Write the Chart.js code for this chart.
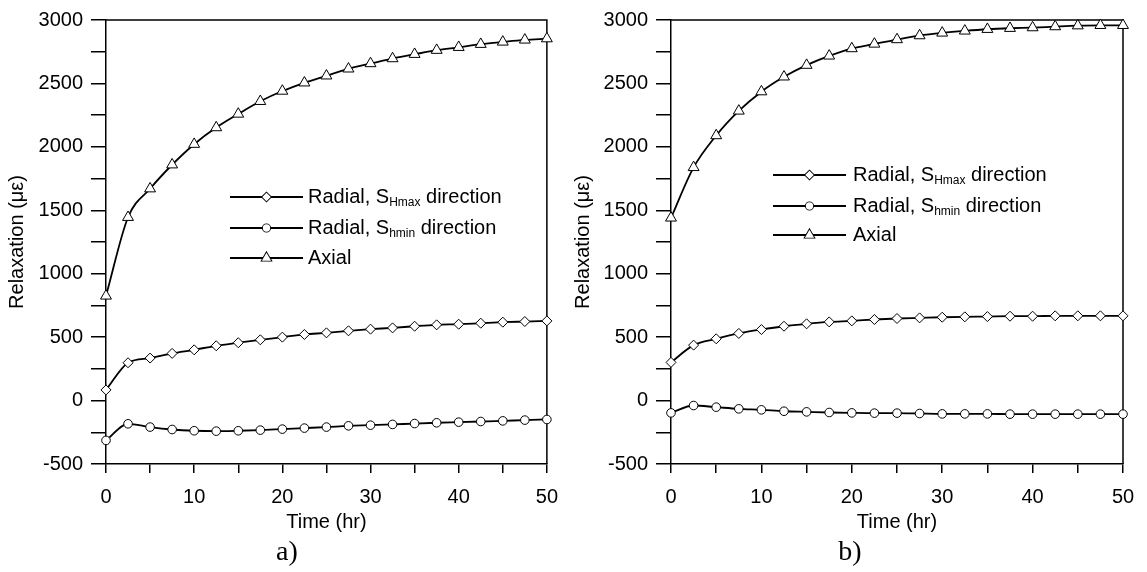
<!DOCTYPE html>
<html lang="en">
<head>
  <meta charset="UTF-8" />
  <title>Strain relaxation vs time</title>
  <script src="https://cdn.jsdelivr.net/npm/chart.js"></script>
  <style>
    body {
      margin: 0;
      background: #fff;
      width: 1147px;
      height: 572px;
      overflow: hidden;
      position: relative;
    }
    .panel { position: absolute; top: 0; height: 572px; }
    #panelA { left: 0; width: 570px; }
    #panelB { left: 570px; width: 577px; }
  </style>
</head>
<body>
  <div class="panel" id="panelA"><canvas id="chartA" width="570" height="572"></canvas></div>
  <div class="panel" id="panelB"><canvas id="chartB" width="577" height="572"></canvas></div>

  <script>
    // time axis (hr)
    const timeHours = [0, 2.5, 5, 7.5, 10, 12.5, 15, 17.5, 20, 22.5, 25, 27.5, 30, 32.5, 35, 37.5, 40, 42.5, 45, 47.5, 50];

    // panel a) relaxation (micro-strain)
    const aRadialHmax = [84, 298, 335, 372, 400, 432, 456, 479, 500, 521, 534, 550, 563, 573, 586, 597, 602, 610, 618, 623, 628];
    const aRadialHmin = [-314, -183, -209, -228, -238, -241, -238, -233, -225, -217, -209, -199, -194, -188, -181, -175, -170, -165, -160, -154, -149];
    const aAxial = [825, 1445, 1670, 1859, 2021, 2152, 2259, 2359, 2440, 2505, 2560, 2615, 2657, 2696, 2730, 2762, 2785, 2809, 2827, 2843, 2853];

    // panel b)
    const bRadialHmax = [301, 437, 487, 529, 560, 586, 605, 620, 628, 639, 647, 652, 657, 660, 662, 665, 665, 668, 668, 668, 668];
    const bRadialHmin = [-97, -39, -52, -65, -73, -84, -89, -94, -97, -99, -99, -102, -105, -105, -105, -107, -107, -107, -107, -107, -107];
    const bAxial = [1440, 1838, 2089, 2283, 2435, 2552, 2644, 2717, 2775, 2811, 2846, 2877, 2898, 2914, 2927, 2935, 2940, 2948, 2955, 2958, 2958];

    // labels
    const seriesNames = [
      { main: 'Radial, S', sub: 'Hmax', tail: ' direction' },
      { main: 'Radial, S', sub: 'hmin', tail: ' direction' },
      { main: 'Axial', sub: '', tail: '' }
    ];
    const markerStyles = ['rectRot', 'circle', 'triangle'];
    const markerSizes = [5, 4.3, 6.3];
    const yAxisTitle = 'Relaxation (\u03bc\u03b5)';
    const xAxisTitle = 'Time (hr)';
    const yRange = [-500, 3000];
    const xRange = [0, 50];

    const SANS = "'Liberation Sans', Arial, sans-serif";
    const SERIF = "'Liberation Serif', 'Times New Roman', serif";

    // top + right border of the plot box
    const framePlugin = {
      id: 'frame',
      beforeDatasetsDraw(chart) {
        const { ctx, chartArea: a } = chart;
        ctx.save();
        ctx.strokeStyle = '#000';
        ctx.lineWidth = 1.5;
        ctx.beginPath();
        ctx.moveTo(a.left, a.top);
        ctx.lineTo(a.right, a.top);
        ctx.lineTo(a.right, a.bottom);
        ctx.stroke();
        ctx.restore();
      }
    };

    // legend drawn inside the plot, with subscripts
    const insetLegend = {
      id: 'insetLegend',
      afterDraw(chart, args, opts) {
        const ctx = chart.ctx;
        ctx.save();
        seriesNames.forEach((name, i) => {
          const y = opts.rows[i];
          ctx.strokeStyle = '#000';
          ctx.lineWidth = 1.8;
          ctx.beginPath();
          ctx.moveTo(opts.lineStart, y);
          ctx.lineTo(opts.lineEnd, y);
          ctx.stroke();
          ctx.fillStyle = '#fff';
          Chart.helpers.drawPoint(ctx, {
            pointStyle: markerStyles[i],
            radius: markerSizes[i] * 0.85,
            borderWidth: 1
          }, (opts.lineStart + opts.lineEnd) / 2, y);
          ctx.fill();

          ctx.fillStyle = '#000';
          ctx.textBaseline = 'middle';
          ctx.textAlign = 'left';
          ctx.font = '20px ' + SANS;
          let x = opts.textX;
          ctx.fillText(name.main, x, y);
          x += ctx.measureText(name.main).width;
          if (name.sub) {
            ctx.font = '12px ' + SANS;
            ctx.fillText(name.sub, x, y + 6);
            x += ctx.measureText(name.sub).width;
            ctx.font = '20px ' + SANS;
            ctx.fillText(name.tail, x, y);
          }
        });
        ctx.restore();
      }
    };

    const panelLabel = {
      id: 'panelLabel',
      afterDraw(chart, args, opts) {
        const ctx = chart.ctx;
        ctx.save();
        ctx.fillStyle = '#000';
        ctx.font = '28px ' + SERIF;
        ctx.textAlign = 'center';
        ctx.textBaseline = 'middle';
        ctx.fillText(opts.text, opts.x, opts.y);
        ctx.restore();
      }
    };

    function toPoints(values) {
      return timeHours.map((t, i) => ({ x: t, y: values[i] }));
    }

    function makeChart(canvasId, series, layout) {
      const datasets = series.map((vals, i) => ({
        label: seriesNames[i].main + seriesNames[i].sub + seriesNames[i].tail,
        data: toPoints(vals),
        borderColor: '#000',
        borderWidth: 1.8,
        pointStyle: markerStyles[i],
        pointRadius: markerSizes[i],
        pointBorderWidth: 1,
        pointBorderColor: '#000',
        pointBackgroundColor: '#fff',
        cubicInterpolationMode: 'monotone',
        clip: false
      }));

      return new Chart(document.getElementById(canvasId), {
        type: 'line',
        data: { datasets },
        plugins: [framePlugin, insetLegend, panelLabel],
        options: {
          responsive: false,
          animation: false,
          layout: { padding: { left: 0, right: layout.padRight, top: 18, bottom: 0 } },
          plugins: {
            legend: { display: false },
            tooltip: { enabled: false },
            insetLegend: layout.legend,
            panelLabel: layout.label
          },
          scales: {
            x: {
              type: 'linear',
              min: xRange[0],
              max: xRange[1],
              afterFit: s => { s.height = 108; },
              border: { display: true, color: '#000', width: 1.5 },
              grid: { drawOnChartArea: false, drawTicks: true, tickLength: 9, color: '#000', lineWidth: 1.5 },
              ticks: {
                stepSize: 5,
                autoSkip: false,
                maxRotation: 0,
                padding: 12,
                color: '#000',
                font: { family: SANS, size: 20 },
                callback: v => (v % 10 === 0 ? v : '')
              },
              title: {
                display: true,
                text: xAxisTitle,
                color: '#000',
                font: { family: SANS, size: 20 },
                padding: { top: 0, bottom: 38 }
              }
            },
            y: {
              min: yRange[0],
              max: yRange[1],
              afterFit: s => { s.width = layout.yWidth; },
              border: { display: true, color: '#000', width: 1.5 },
              grid: { drawOnChartArea: false, drawTicks: true, tickLength: 15, color: '#000', lineWidth: 1.5 },
              ticks: {
                stepSize: 250,
                autoSkip: false,
                padding: 8,
                color: '#000',
                font: { family: SANS, size: 20 },
                callback: v => (v % 500 === 0 ? v : '')
              },
              title: {
                display: true,
                text: yAxisTitle,
                color: '#000',
                font: { family: SANS, size: 20 },
                padding: { top: layout.titlePad, bottom: 0 }
              }
            }
          }
        }
      });
    }

    makeChart('chartA', [aRadialHmax, aRadialHmin, aAxial], {
      padRight: 13,
      yWidth: 106,
      titlePad: 5,
      legend: { lineStart: 230, lineEnd: 303, textX: 308, rows: [197, 228, 258] },
      label: { text: 'a)', x: 287, y: 553 }
    });

    makeChart('chartB', [bRadialHmax, bRadialHmin, bAxial], {
      padRight: 24,
      yWidth: 101,
      titlePad: 1,
      legend: { lineStart: 203, lineEnd: 276, textX: 283, rows: [175, 206, 235] },
      label: { text: 'b)', x: 280, y: 553 }
    });
  </script>
</body>
</html>
